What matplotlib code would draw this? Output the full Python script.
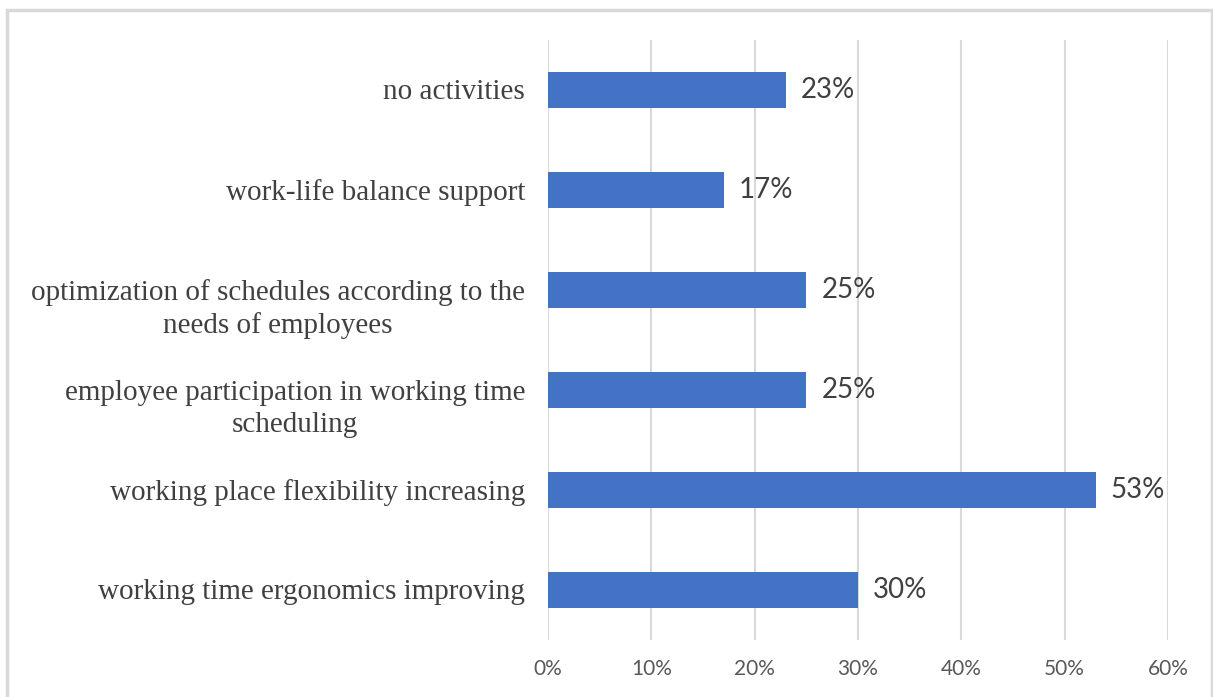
import matplotlib.pyplot as plt
from matplotlib.patches import Rectangle
from matplotlib.ticker import PercentFormatter

categories = [
    'working time ergonomics improving',
    'working place flexibility increasing',
    'employee participation in working time\nscheduling',
    'optimization of schedules according to the\nneeds of employees',
    'work-life balance support',
    'no activities',
]
values = [30, 53, 25, 25, 17, 23]
ticks = [0, 10, 20, 30, 40, 50, 60]

fig = plt.figure(figsize=(12.13, 6.97), dpi=100)
ax = fig.add_axes([548 / 1213, 1 - 640 / 697, 620 / 1213, 600 / 697])

# light frame around the chart area
fig.patches.append(Rectangle((7 / 1213, -0.05), 1205 / 1213, 1.05 - 10 / 697,
                             transform=fig.transFigure, fill=False,
                             edgecolor='#d9d9d9', linewidth=2.5))

y = list(range(len(categories)))
ax.barh(y, values, height=0.36, color='#4472C4', zorder=3)

for yi, v in zip(y, values):
    ax.annotate(f'{v}%', (v, yi), xytext=(11, 0), textcoords='offset points',
                va='center', ha='left', fontsize=20, color='#404040',
                family='Lato')

# category labels: first line sits level with its bar
for yi, cat in zip(y, categories):
    extra = cat.count('\n')
    ax.annotate(cat, (0, yi), xytext=(-16.5, -1.5 - 12 * extra),
                textcoords='offset points', ha='right', va='center',
                multialignment='center', linespacing=1.3,
                family='Liberation Serif', fontsize=21, color='#404040')

ax.set_xlim(0, 60)
ax.set_ylim(-0.5, len(categories) - 0.5)
ax.set_xticks(ticks)
ax.xaxis.set_major_formatter(PercentFormatter(decimals=0))
ax.set_yticks(y)
ax.set_yticklabels([])
for lbl in ax.get_xticklabels():
    lbl.set_family('Lato')
    lbl.set_fontsize(15)
    lbl.set_color('#595959')

ax.grid(axis='x', color='#d9d9d9', linewidth=1.5, zorder=0)
ax.tick_params(axis='both', length=0)
ax.tick_params(axis='x', pad=14)
for s in ax.spines.values():
    s.set_visible(False)

fig.savefig('out.png', dpi=100)
